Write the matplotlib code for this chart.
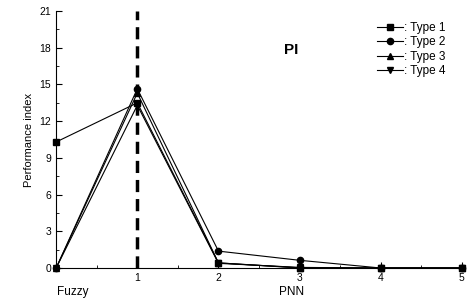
import matplotlib
matplotlib.use('Agg')
import matplotlib.pyplot as plt
from matplotlib.ticker import MultipleLocator

matplotlib.rcParams['font.family'] = ['Liberation Sans', 'DejaVu Sans']
matplotlib.rcParams['font.size'] = 7.5

x = [0, 1, 2, 3, 4, 5]
type1 = [10.3, 13.5, 0.42, 0.0, 0.0, 0.0]
type2 = [0.0, 14.65, 1.38, 0.63, 0.0, 0.0]
type3 = [0.0, 14.3, 0.42, 0.02, 0.0, 0.0]
type4 = [0.0, 13.3, 0.38, 0.05, 0.0, 0.0]
labels = [': Type 1', ': Type 2', ': Type 3', ': Type 4']
markers = ['s', 'o', '^', 'v']

fig = plt.figure(figsize=(4.68, 3.07), dpi=100)
ax = fig.add_axes([0.12, 0.127, 0.867, 0.837])

for yy, lab, m in zip([type1, type2, type3, type4], labels, markers):
    ax.plot(x, yy, color='black', lw=0.8, marker=m, ms=4.5, label=lab, clip_on=False)

ax.axvline(1, color='black', lw=2.5, ls=(0, (3.5, 2)))

ax.set_xlim(0, 5)
ax.set_ylim(0, 21)
ax.xaxis.set_minor_locator(MultipleLocator(0.5))
ax.yaxis.set_major_locator(MultipleLocator(3))
ax.yaxis.set_minor_locator(MultipleLocator(1.5))
ax.set_xticks([1, 2, 3, 4, 5])
ax.tick_params(which='both', direction='in')
ax.tick_params(which='major', length=4)
ax.tick_params(which='minor', length=2)
ax.spines['top'].set_visible(False)
ax.spines['right'].set_visible(False)
ax.set_ylabel('Performance index', fontsize=8)

ax.text(0.2, -0.07, 'Fuzzy', transform=ax.get_xaxis_transform(), ha='center', va='top', fontsize=8.5)
ax.text(2.9, -0.07, 'PNN', transform=ax.get_xaxis_transform(), ha='center', va='top', fontsize=8.5)
ax.text(2.9, 17.8, 'PI', fontsize=11, fontweight='bold', ha='center', va='center')

ax.legend(loc='upper right', bbox_to_anchor=(0.985, 1.0), frameon=False, handlelength=2.2,
          handletextpad=0.1, labelspacing=0.22, fontsize=8.5)

fig.savefig('out.png', dpi=100)
